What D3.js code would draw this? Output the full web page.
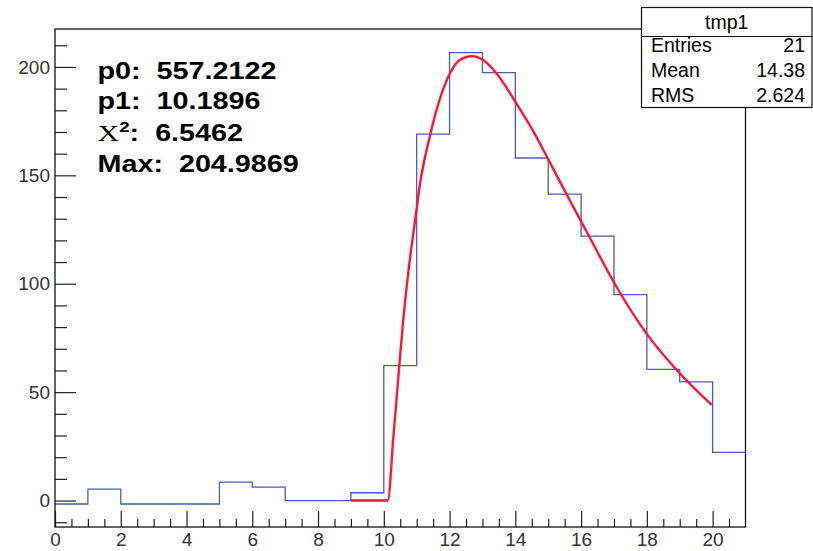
<!DOCTYPE html>
<html>
<head>
<meta charset="utf-8">
<script src="https://cdn.jsdelivr.net/npm/d3@7"></script>
<style>
  body { margin: 0; background: #fff; }
  svg { display: block; font-family: "Liberation Sans", Arial, sans-serif; }
  text { white-space: pre; }
</style>
</head>
<body>
<svg width="813" height="551"></svg>
<script>
// histogram contents, one value per unit bin starting at 0
var binStart = d3.range(0, 21);
var binCount = [-1.6, 5.3, -1.6, -1.6, -1.6, 8.5, 6.2, 0, 0, 3.6, 62.2, 169, 206.6, 197.4, 158, 141.3, 122, 95, 60.5, 54.7, 22.2];

// fitted curve
var fitX = [9, 10.12, 10.29, 10.47, 10.59, 10.79, 10.95, 11.1, 11.4, 11.7, 12.01, 12.31, 12.67, 13.02, 13.43, 14.04, 14.54, 15.05, 15.76, 16.17, 17.08, 17.99, 19.0, 19.97];
var fitY = [0, 0, 29, 62, 83, 111, 129, 146, 168, 185, 197, 203.2, 205, 203.2, 197, 183, 170.5, 156, 135.5, 124, 98.5, 77, 58.7, 44.1];

var xMajor = d3.range(0, 21, 2);
var yMajor = [0, 50, 100, 150, 200];

var fitLines = ["p0:  557.2122", "p1:  10.1896", "", "Max:  204.9869"];
var chiValue = ":  6.5462";

var statTitle = "tmp1";
var statNames = ["Entries", "Mean", "RMS"];
var statValues = ["21", "14.38", "2.624"];

var svg = d3.select("svg");

var mLeft = 55, mRight = 745.5, mTop = 29, mBottom = 527;

var x = d3.scaleLinear().domain([0, 21]).range([mLeft, mRight]);
var y = d3.scaleLinear().domain([-12.2, 217.5]).range([mBottom, mTop]);

// ticks (inside the frame, ROOT style)
var yMinor = d3.range(-10, 211, 10).filter(function(v) { return v % 50 != 0; });
var xMinor = d3.range(0.5, 21, 0.5).filter(function(v) { return v % 2 != 0; });

function tickAxis(axis, g) {
    g.call(axis);
    g.select(".domain").remove();
    g.selectAll("line").attr("stroke", "#222").attr("stroke-width", 1.2);
}

svg.append("g").attr("transform", "translate(" + mLeft + ",0)")
    .call(function(g) { tickAxis(d3.axisRight(y).tickValues(yMajor).tickSize(21).tickFormat(""), g); });
svg.append("g").attr("transform", "translate(" + mLeft + ",0)")
    .call(function(g) { tickAxis(d3.axisRight(y).tickValues(yMinor).tickSize(12).tickFormat(""), g); });
svg.append("g").attr("transform", "translate(0," + mBottom + ")")
    .call(function(g) { tickAxis(d3.axisTop(x).tickValues(xMajor).tickSize(16).tickFormat(""), g); });
svg.append("g").attr("transform", "translate(0," + mBottom + ")")
    .call(function(g) { tickAxis(d3.axisTop(x).tickValues(xMinor).tickSize(8).tickFormat(""), g); });

// labels
var yLab = svg.append("g").attr("transform", "translate(" + mLeft + ",0)")
    .call(d3.axisLeft(y).tickValues(yMajor).tickSize(0).tickPadding(5));
yLab.select(".domain").remove();
yLab.selectAll("text").attr("font-size", 19).attr("font-family", "Liberation Sans").attr("fill", "#333");

var xLab = svg.append("g").attr("transform", "translate(0," + mBottom + ")")
    .call(d3.axisBottom(x).tickValues(xMajor).tickSize(0).tickPadding(6));
xLab.select(".domain").remove();
xLab.selectAll("text").attr("font-size", 19).attr("font-family", "Liberation Sans").attr("fill", "#333");

// histogram step line
var pts = [];
binStart.forEach(function(b, i) {
    pts.push([b, binCount[i]]);
    pts.push([b + 1, binCount[i]]);
});
svg.append("path")
    .datum(pts)
    .attr("fill", "none")
    .attr("stroke", "#4a5bb8")
    .attr("stroke-width", 1.3)
    .attr("d", d3.line().x(function(d) { return x(d[0]); }).y(function(d) { return y(d[1]); }));

// fit curve
svg.append("path")
    .datum(d3.zip(fitX, fitY))
    .attr("fill", "none")
    .attr("stroke", "#ff1630")
    .attr("stroke-width", 2.4)
    .attr("d", d3.line().curve(d3.curveMonotoneX)
        .x(function(d) { return x(d[0]); }).y(function(d) { return y(d[1]); }));

// frame
svg.append("rect")
    .attr("x", mLeft).attr("y", mTop)
    .attr("width", mRight - mLeft).attr("height", mBottom - mTop)
    .attr("fill", "none").attr("stroke", "#111").attr("stroke-width", 1.3);

// fit parameters text (horizontally stretched like the original)
var txt = svg.append("g").attr("transform", "translate(97.5,0) scale(1.25,1)")
    .attr("font-weight", "bold").attr("font-size", 23).attr("fill", "#000");
var baselines = [79, 109, 141, 172];
fitLines.forEach(function(s, i) {
    if (s) txt.append("text").attr("x", 0).attr("y", baselines[i]).text(s);
});
var chi = txt.append("text").attr("x", 0).attr("y", baselines[2]);
chi.append("tspan").attr("font-family", "Liberation Serif").attr("font-weight", "normal").attr("font-size", 24).text("\u03A7");
chi.append("tspan").attr("font-size", 15).attr("dy", -9).text("2");
chi.append("tspan").attr("dy", 9).text(chiValue);

// stats box
var bx = 641.5, by = 7.5, bw = 170.5, bh = 100;
var stats = svg.append("g");
stats.append("rect").attr("x", bx).attr("y", by).attr("width", bw).attr("height", bh)
    .attr("fill", "#fff").attr("stroke", "#111").attr("stroke-width", 1.2);
stats.append("line").attr("x1", bx).attr("x2", bx + bw).attr("y1", 36.5).attr("y2", 36.5)
    .attr("stroke", "#111").attr("stroke-width", 1.2);
stats.append("text").attr("x", bx + bw / 2).attr("y", 29).attr("text-anchor", "middle")
    .attr("font-size", 19.5).text(statTitle);
var rowY = [51.5, 77, 102];
statNames.forEach(function(n, i) {
    stats.append("text").attr("x", 651).attr("y", rowY[i]).attr("font-size", 19.5).text(n);
    stats.append("text").attr("x", 805).attr("y", rowY[i]).attr("text-anchor", "end")
        .attr("font-size", 19.5).text(statValues[i]);
});
</script>
</body>
</html>
